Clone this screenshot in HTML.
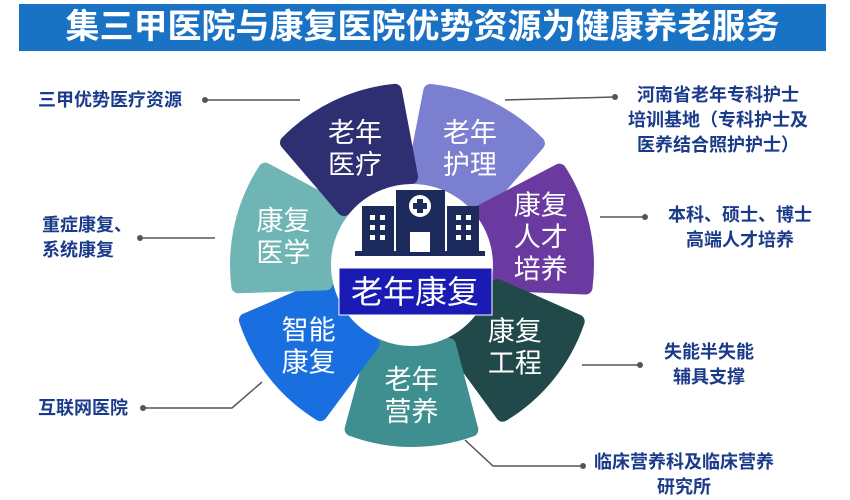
<!DOCTYPE html>
<html><head><meta charset="utf-8"><style>
html,body{margin:0;padding:0;background:#fff;}
body{width:850px;height:499px;position:relative;overflow:hidden;font-family:"Liberation Sans","Noto Sans CJK SC",sans-serif;}
.title{position:absolute;left:19px;top:4px;width:807px;height:47px;background:#1a72c4;color:#fff;font-size:34px;font-weight:bold;text-align:center;line-height:47px;}
.lb{position:absolute;color:#1a3a8a;font-weight:bold;font-size:18px;line-height:25px;white-space:nowrap;}
</style></head><body>
<div class="title">集三甲医院与康复医院优势资源为健康养老服务</div>
<svg id="s" width="850" height="499" style="position:absolute;left:0;top:0">
<g id="segs"></g>
<g stroke="#555" stroke-width="1.5" fill="none">
<polyline points="205,100 300,100"/>
<polyline points="140,238 215,238"/>
<polyline points="143,408 232,408 262,382"/>
<polyline points="615,97 505,100"/>
<polyline points="645,217 600,217"/>
<polyline points="640,365 582,365"/>
<polyline points="583,466 493,466 465,440"/>
</g>
<g fill="#555">
<circle cx="205" cy="100" r="3"/><circle cx="140" cy="238" r="3"/><circle cx="143" cy="408" r="3"/>
<circle cx="615" cy="97" r="3"/><circle cx="645" cy="217" r="3"/><circle cx="640" cy="365" r="3"/><circle cx="583" cy="466" r="3"/>
</g>
<g fill="#1c2a5c">
<rect x="355" y="251" width="130" height="5"/>
<rect x="362" y="206" width="32" height="46"/>
<rect x="447" y="206" width="32" height="46"/>
<rect x="396" y="190" width="49" height="62"/>
</g>
<g fill="#fff">
<rect x="370" y="215" width="5" height="5"/><rect x="380" y="215" width="5" height="5"/>
<rect x="370" y="225" width="5" height="5"/><rect x="380" y="225" width="5" height="5"/>
<rect x="370" y="235" width="5" height="5"/><rect x="380" y="235" width="5" height="5"/>
<rect x="456" y="215" width="5" height="5"/><rect x="466" y="215" width="5" height="5"/>
<rect x="456" y="225" width="5" height="5"/><rect x="466" y="225" width="5" height="5"/>
<rect x="456" y="235" width="5" height="5"/><rect x="466" y="235" width="5" height="5"/>
<rect x="410" y="232" width="20" height="20"/>
<circle cx="420" cy="206" r="11"/>
</g>
<g fill="#1c2a5c"><rect x="417" y="199" width="6" height="14"/><rect x="413" y="203" width="14" height="6"/></g>
<rect x="339" y="268" width="153" height="47" fill="#1a1ab4" stroke="#fff" stroke-width="1"/>
<text x="415" y="303" fill="#fff" font-size="32" text-anchor="middle" font-family="Liberation Sans,Noto Sans CJK SC,sans-serif">老年康复</text>
</svg>
<div class="lb" style="left:38px;top:88px">三甲优势医疗资源</div>
<div class="lb" style="left:42px;top:213px">重症康复、<br>系统康复</div>
<div class="lb" style="left:38px;top:396px">互联网医院</div>
<div class="lb" style="left:628px;top:83px;text-align:center">河南省老年专科护士<br>培训基地（专科护士及<br>医养结合照护护士）</div>
<div class="lb" style="left:668px;top:203px;text-align:center">本科、硕士、博士<br>高端人才培养</div>
<div class="lb" style="left:664px;top:340px;text-align:center">失能半失能<br>辅具支撑</div>
<div class="lb" style="left:594px;top:450px;text-align:center">临床营养科及临床营养<br>研究所</div>
<script>
var cx=412,cy=265,r1=88,r2=175,hw=20;
var segs=[[-64,"#7b7fd0",["老年","护理"]],[-12.6,"#6a3aa0",["康复","人才","培养"]],[38.8,"#22494a",["康复","工程"]],[90.2,"#3f8f91",["老年","营养"]],[141.6,"#1a6fe0",["智能","康复"]],[193,"#6fb5b5",["康复","医学"]],[244.4,"#2e2f73",["老年","医疗"]]];
var g=document.getElementById("segs"),h="";
function p(r,a){a=a*Math.PI/180;return (cx+r*Math.cos(a)).toFixed(1)+","+(cy+r*Math.sin(a)).toFixed(1);}
segs.forEach(function(s){
var a=s[0],b1=a-hw,b2=a+hw,ib1=a-hw*1.25,ib2=a+hw*1.25;
h+='<path d="M'+p(r1,ib1)+' L'+p(r2,b1)+' A'+r2+','+r2+' 0 0 1 '+p(r2,b2)+' L'+p(r1,ib2)+' A'+r1+','+r1+' 0 0 0 '+p(r1,ib1)+' Z" fill="'+s[1]+'" stroke="'+s[1]+'" stroke-width="14" stroke-linejoin="round"/>';
var t=a*Math.PI/180,x=cx+132*Math.cos(t),y=cy+130*Math.sin(t),n=s[2].length,lh=32;
s[2].forEach(function(w,i){h+='<text x="'+x.toFixed(1)+'" y="'+(y+(i-(n-1)/2)*lh+10).toFixed(1)+'" fill="#fff" font-size="27" text-anchor="middle" font-family="Liberation Sans,Noto Sans CJK SC,sans-serif">'+w+'</text>';});
});
g.innerHTML=h;
</script>
</body></html>
